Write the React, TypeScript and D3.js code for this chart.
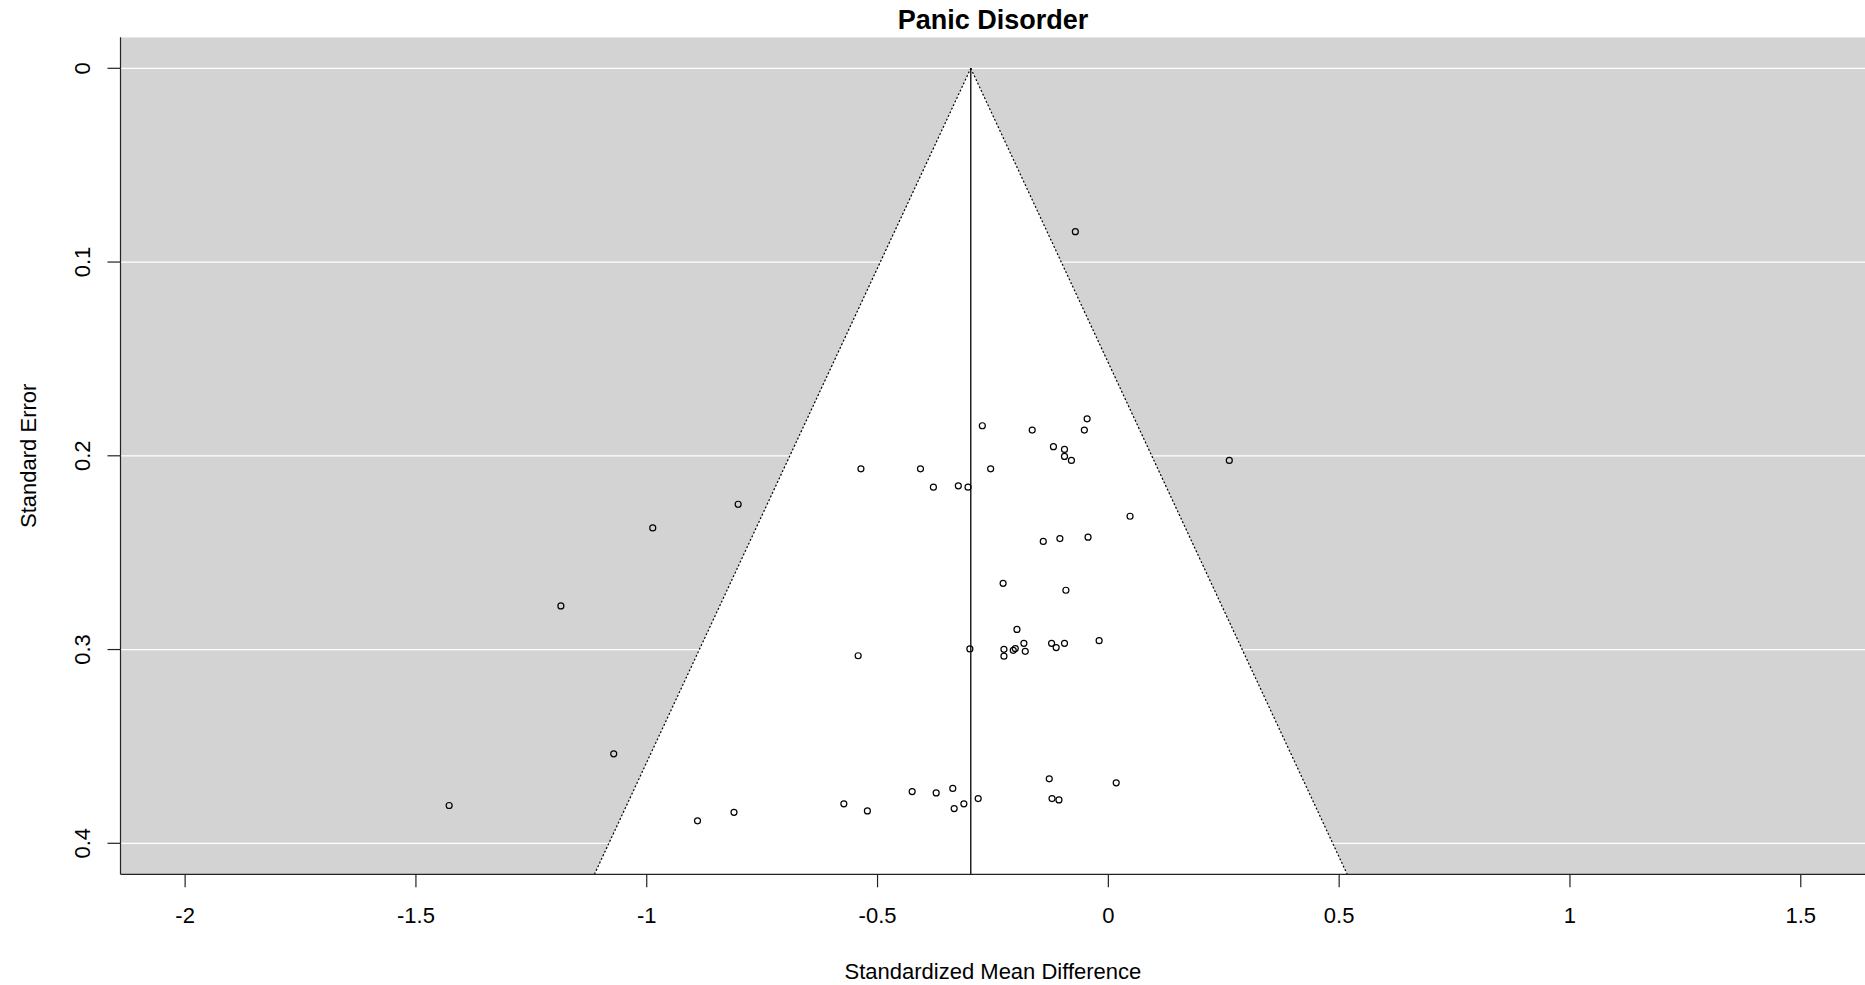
import React from "react";
import * as d3 from "d3";

// Funnel plot: study effect sizes (SMD) against their standard errors
const smd: number[] = [
  -0.0715, -0.273, -0.165, -0.046, -0.052, -0.119, -0.095, -0.095, -0.08, 0.262,
  -0.536, -0.407, -0.255, -0.379, -0.325, -0.304, -0.802, 0.047, -0.987, -0.141,
  -0.105, -0.044, -0.228, -0.092, -1.186, -0.198, -0.02, -0.183, -0.123, -0.095,
  -0.113, -0.3, -0.2017, -0.206, -0.2262, -0.18, -0.2262, -0.542, -1.0715, -0.128,
  0.017, -0.337, -0.425, -0.373, -0.282, -0.122, -0.107, -0.573, -0.313, -1.428,
  -0.334, -0.522, -0.811, -0.89,
];
const se: number[] = [
  0.0843, 0.1845, 0.1867, 0.1809, 0.1867, 0.1953, 0.1967, 0.2003, 0.2024, 0.2024,
  0.2067, 0.2067, 0.2067, 0.2162, 0.2155, 0.2162, 0.225, 0.2312, 0.2372, 0.2442,
  0.2427, 0.242, 0.2658, 0.2694, 0.2775, 0.2896, 0.2954, 0.2968, 0.2968, 0.2968,
  0.299, 0.2997, 0.2995, 0.3004, 0.2999, 0.3009, 0.3034, 0.3032, 0.3538, 0.3667,
  0.3688, 0.3717, 0.3733, 0.374, 0.3769, 0.3769, 0.3776, 0.3796, 0.3796, 0.3805,
  0.3821, 0.3833, 0.384, 0.3884,
];
const pooledEstimate = -0.298;
const xTicks: number[] = [-2, -1.5, -1, -0.5, 0, 0.5, 1, 1.5];
const yTicks: number[] = [0, 0.1, 0.2, 0.3, 0.4];
const xLim: [number, number] = [-2, 1.5];
const yLim: [number, number] = [0, 0.4];

const W = 1865;
const H = 985;
const FONT = "'Liberation Sans', Arial, Helvetica, sans-serif";

export default function App() {
  // R-style 4% axis expansion
  const xPad = (xLim[1] - xLim[0]) * 0.04;
  const yPad = (yLim[1] - yLim[0]) * 0.04;
  const x = d3
    .scaleLinear()
    .domain([xLim[0] - xPad, xLim[1] + xPad])
    .range([120.5, 1865.4]);
  const y = d3
    .scaleLinear()
    .domain([yLim[0] - yPad, yLim[1] + yPad])
    .range([37.3, 874.3]);

  const [x0, x1] = x.range();
  const [y0, y1] = y.range();
  const seBottom = y.domain()[1];
  const z = 1.96;

  const funnel = [
    [pooledEstimate - z * seBottom, seBottom],
    [pooledEstimate, 0],
    [pooledEstimate + z * seBottom, seBottom],
  ];
  const funnelPath =
    d3.line()(funnel.map(([a, b]) => [x(a), y(b)] as [number, number])) + "Z";
  const leftEdge = d3.line()(
    funnel.slice(0, 2).map(([a, b]) => [x(a), y(b)] as [number, number])
  );
  const rightEdge = d3.line()(
    funnel.slice(1).map(([a, b]) => [x(a), y(b)] as [number, number])
  );

  const cx = (x0 + x1) / 2;
  const cy = (y0 + y1) / 2;

  return (
    <div style={{ position: "fixed", left: 0, top: 0 }}>
      <svg width={W} height={H} style={{ display: "block", background: "#fff" }}>
        <defs>
          <clipPath id="plotClip">
            <rect x={x0} y={y0} width={x1 - x0} height={y1 - y0} />
          </clipPath>
        </defs>
        <g clipPath="url(#plotClip)">
          <rect x={x0} y={y0} width={x1 - x0} height={y1 - y0} fill="#d3d3d3" />
          {yTicks.map((t) => (
            <line
              key={"g" + t}
              x1={x0}
              x2={x1}
              y1={y(t)}
              y2={y(t)}
              stroke="#fff"
              strokeWidth={1.3}
            />
          ))}
          <path d={funnelPath} fill="#fff" stroke="none" />
          <path d={leftEdge!} fill="none" stroke="#000" strokeWidth={1.2} strokeDasharray="2,2" />
          <path d={rightEdge!} fill="none" stroke="#000" strokeWidth={1.2} strokeDasharray="2,2" />
          <line
            x1={x(pooledEstimate)}
            x2={x(pooledEstimate)}
            y1={y(0)}
            y2={y1}
            stroke="#000"
            strokeWidth={1.3}
          />
          {smd.map((v, i) => (
            <circle
              key={"p" + i}
              cx={x(v)}
              cy={y(se[i])}
              r={3}
              fill="none"
              stroke="#000"
              strokeWidth={1.2}
            />
          ))}
        </g>

        {/* axes */}
        <line x1={x0} x2={x0} y1={y0} y2={y1} stroke="#222" strokeWidth={1.2} />
        <line x1={x0} x2={x1} y1={y1} y2={y1} stroke="#222" strokeWidth={1.2} />
        {xTicks.map((t) => (
          <g key={"x" + t}>
            <line x1={x(t)} x2={x(t)} y1={y1} y2={y1 + 13} stroke="#222" strokeWidth={1.2} />
            <text
              x={x(t)}
              y={923}
              textAnchor="middle"
              fontFamily={FONT}
              fontSize={22}
              fill="#000"
            >
              {String(t)}
            </text>
          </g>
        ))}
        {yTicks.map((t) => (
          <g key={"y" + t}>
            <line x1={x0 - 13} x2={x0} y1={y(t)} y2={y(t)} stroke="#222" strokeWidth={1.2} />
            <text
              transform={`translate(90,${y(t)}) rotate(-90)`}
              textAnchor="middle"
              fontFamily={FONT}
              fontSize={22}
              fill="#000"
            >
              {String(t)}
            </text>
          </g>
        ))}

        <text
          x={cx}
          y={29.3}
          textAnchor="middle"
          fontFamily={FONT}
          fontSize={27}
          fontWeight="bold"
          fill="#000"
        >
          Panic Disorder
        </text>
        <text
          x={cx}
          y={979}
          textAnchor="middle"
          fontFamily={FONT}
          fontSize={22}
          fill="#000"
        >
          Standardized Mean Difference
        </text>
        <text
          transform={`translate(36,${cy}) rotate(-90)`}
          textAnchor="middle"
          fontFamily={FONT}
          fontSize={22}
          fill="#000"
        >
          Standard Error
        </text>
      </svg>
    </div>
  );
}
